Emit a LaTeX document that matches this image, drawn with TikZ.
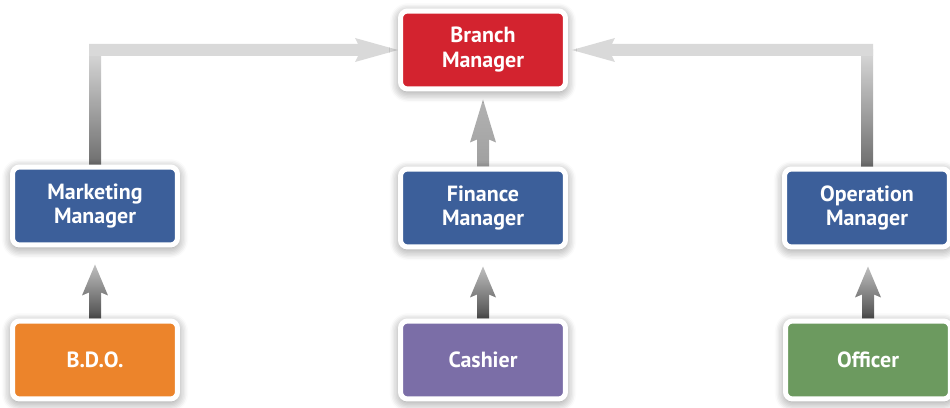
\documentclass[tikz,border=0pt]{standalone}
\usepackage{fontspec}
\setmainfont{PT Sans}
\usetikzlibrary{calc, backgrounds, shadows.blur}

\definecolor{branchred}{HTML}{D3232F}
\definecolor{mgrblue}{HTML}{3C5F9A}
\definecolor{bdoorange}{HTML}{EC842B}
\definecolor{cashpurple}{HTML}{7B6EA7}
\definecolor{offgreen}{HTML}{6C9A5F}
\definecolor{arrlight}{HTML}{D9D9D9}
\definecolor{arrdark}{HTML}{6E6E6E}

% upward arrow from #1 to #2: gap, head length, bottom colour, top colour
\newcommand\climbarrow[6]{%
  \shade[bottom color=#5, top color=#6]
    let \p1=(#1.north), \p2=($(#2.south)+(0,#3)$) in
    ($(\x1,\y1)+(-6,0)$) -- ($(\x1,\y2)+(-6,#4)$) -- ($(\x1,\y2)+(-13,#4+3)$)
    -- (\x1,\y2) -- ($(\x1,\y2)+(13,#4+3)$) -- ($(\x1,\y2)+(6,#4)$)
    -- ($(\x1,\y1)+(6,0)$) -- cycle;}

\tikzset{
  box/.style={draw=white, line width=0.1cm, rounded corners=4pt,
    minimum width=3.3cm, minimum height=1.56cm, inner sep=0pt,
    text=white, align=center, font=\fontsize{12.5}{14.2}\selectfont\bfseries,
    blur shadow={shadow blur steps=8, shadow xshift=0pt, shadow yshift=-1.5pt,
      shadow blur radius=6pt, shadow opacity=50}},
}

\begin{document}
\begin{tikzpicture}[x=0.02cm, y=-0.02cm]
    \useasboundingbox (0,0) rectangle (950,408);

    % top
    \node [box, fill=branchred] (branch) at (483,50) {Branch\\Manager};

    % managers
    \node [box, fill=mgrblue] (mkt) at (95,206) {Marketing\\Manager};
    \node [box, fill=mgrblue] (fin) at (483,208) {Finance\\Manager};
    \node [box, fill=mgrblue] (ops) at (867,208) {Operation\\Manager};

    % staff
    \node [box, fill=bdoorange] (bdo) at (95,360) {B.D.O.};
    \node [box, fill=cashpurple] (cash) at (483,360) {Cashier};
    \node [box, fill=offgreen] (off) at (868,360) {Officer};

    \begin{pgfonlayer}{background}
    % side managers to branch manager
    \shade [bottom color=arrdark, top color=arrlight]
        ($(mkt.north)+(-6,0)$) rectangle ($(mkt.north |- branch.west)+(6,0)$);
    \fill [arrlight] ($(mkt.north |- branch.west)+(-6,-6)$) -- ($(branch.west)+(-40,-6)$)
        -- ($(branch.west)+(-43,-12)$) -- (branch.west) -- ($(branch.west)+(-43,12)$)
        -- ($(branch.west)+(-40,6)$) -- ($(mkt.north |- branch.west)+(-6,6)$) -- cycle;
    \shade [bottom color=arrdark, top color=arrlight]
        ($(ops.north)+(-6,0)$) rectangle ($(ops.north |- branch.east)+(6,0)$);
    \fill [arrlight] ($(ops.north |- branch.east)+(6,-6)$) -- ($(branch.east)+(44,-6)$)
        -- ($(branch.east)+(47,-12)$) -- ($(branch.east)+(4,0)$) -- ($(branch.east)+(47,12)$)
        -- ($(branch.east)+(44,6)$) -- ($(ops.north |- branch.east)+(6,6)$) -- cycle;

    % straight up
    \climbarrow{fin}{branch}{8}{40}{gray!75}{gray!60}
    \climbarrow{bdo}{mkt}{17}{28}{black!70}{gray!50}
    \climbarrow{cash}{fin}{17}{28}{black!70}{gray!50}
    \climbarrow{off}{ops}{17}{28}{black!70}{gray!50}
    \end{pgfonlayer}
\end{tikzpicture}
\end{document}
